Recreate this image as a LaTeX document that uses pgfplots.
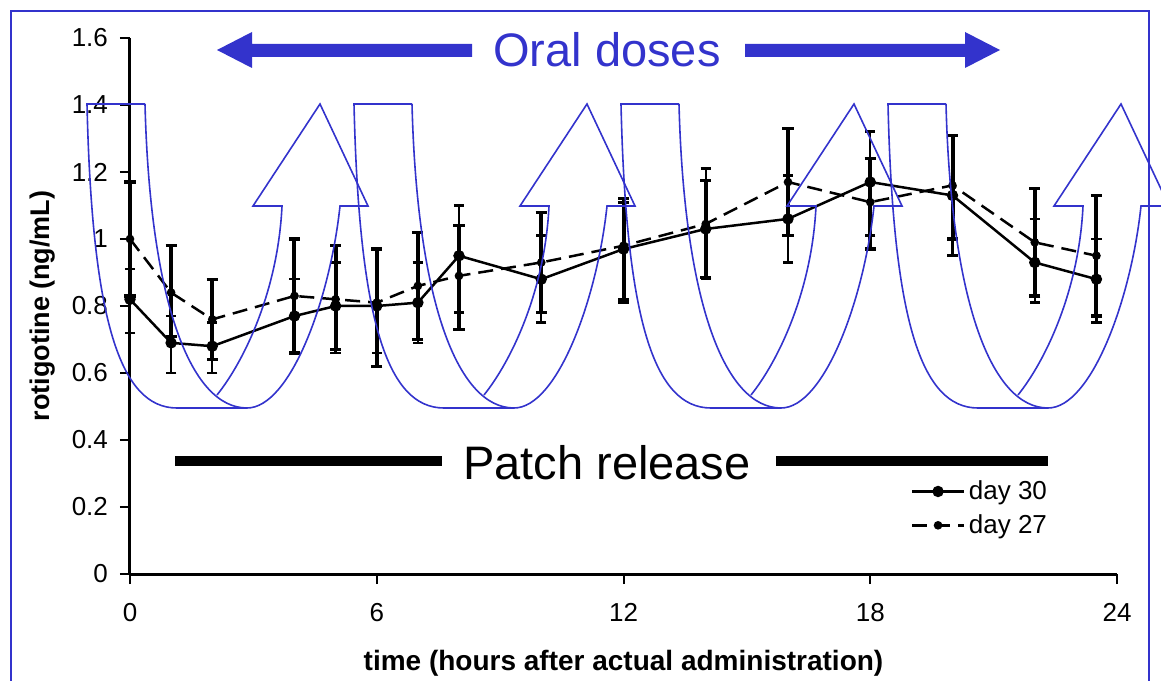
\documentclass[border=0pt]{standalone}
\usepackage{pgfplots}
\pgfplotsset{compat=1.18}
\usepackage{pgfplotstable}
\usepackage{fontspec}
\setmainfont{Liberation Sans}
\definecolor{ublue}{RGB}{51,51,204}

\pgfplotstableread{
t y ep em
0 0.82 0.09 0.10
1 0.69 0.08 0.09
2 0.68 0.07 0.08
4 0.77 0.11 0.11
5 0.80 0.13 0.14
6 0.80 0.17 0.14
7 0.81 0.12 0.12
8 0.95 0.15 0.17
10 0.88 0.13 0.13
12 0.97 0.15 0.16
14 1.03 0.18 0.15
16 1.06 0.13 0.13
18 1.17 0.15 0.16
20 1.13 0.18 0.18
22 0.93 0.13 0.12
23.5 0.88 0.12 0.13
}\dayThirty

\pgfplotstableread{
t y ep em
0 1.00 0.17 0.17
1 0.84 0.14 0.13
2 0.76 0.12 0.12
4 0.83 0.17 0.17
5 0.82 0.16 0.15
6 0.81 0.16 0.19
7 0.86 0.16 0.16
8 0.89 0.15 0.16
10 0.93 0.15 0.15
12 0.98 0.13 0.16
14 1.045 0.13 0.16
16 1.17 0.16 0.16
18 1.11 0.13 0.14
20 1.16 0.15 0.16
22 0.99 0.16 0.16
23.5 0.95 0.18 0.18
}\dayTwentySeven

\begin{document}
\begin{tikzpicture}
\begin{axis}[
  at={(0,0)}, anchor=south west,
  scale only axis, width=493.5pt, height=268pt,
  xmin=0, xmax=24, ymin=0, ymax=1.6,
  clip=false,
  axis lines=left,
  axis line style={-, line width=1.5pt, black},
  tick align=outside,
  major tick length=5pt,
  tick style={line width=1pt, black},
  xtick={0,6,12,18,24},
  xticklabels={0,6,12,18,24},
  ytick={0,0.2,0.4,0.6,0.8,1,1.2,1.4,1.6},
  yticklabels={0,0.2,0.4,0.6,0.8,1,1.2,1.4,1.6},
  ticklabel style={font=\fontsize{13}{15}\selectfont},
  xticklabel style={yshift=-6pt},
  yticklabel style={xshift=-2.5pt},
  xlabel={\bfseries time (hours after actual administration)},
  ylabel={\bfseries rotigotine (ng/mL)},
  xlabel style={font=\fontsize{14}{16}\selectfont, at={(axis description cs:0.5,-0.166)}, anchor=center},
  ylabel style={font=\fontsize{13.5}{16}\selectfont, at={(axis description cs:-0.089,0.5)}, anchor=center},
  legend style={draw=none, fill=none, at={(0.785,0.19)}, anchor=north west,
    font=\fontsize{13}{15}\selectfont, row sep=2pt},
  legend cell align=left,
  legend image code/.code={\draw[mark repeat=2,mark phase=2,#1] plot coordinates {(0cm,0cm) (0.45cm,0cm) (0.9cm,0cm)};},
]
\addplot[black, line width=1.25pt, mark=*, mark size=2.2pt,
  error bars/.cd, y dir=both, y explicit,
  error bar style={line width=1.2pt, solid},
  error mark options={rotate=90, mark size=2.6pt, line width=1.3pt, solid}]
  table[x=t, y=y, y error plus=ep, y error minus=em]{\dayThirty};
\addlegendentry{day 30}
\addplot[black, line width=1.25pt, dash pattern=on 7.5pt off 4pt, mark=*, mark size=1.5pt, mark options={solid},
  error bars/.cd, y dir=both, y explicit,
  error bar style={line width=2pt, solid},
  error mark options={rotate=90, mark size=2.8pt, line width=1.6pt, solid}]
  table[x=t, y=y, y error plus=ep, y error minus=em]{\dayTwentySeven};
\addlegendentry{day 27}
\end{axis}

\begin{scope}[shift={(-65pt,287pt)}, x=0.5pt, y=-0.5pt]
  % U-turn arrows
  \foreach \s in {0,267,534,801} {
    \begin{scope}[shift={(\s,0)}]
      \draw[ublue, line width=0.8pt, line join=miter]
        (145,104) -- (87,104)
        .. controls (92,320) and (120,408) .. (177,408)
        -- (247,408)
        .. controls (290,408) and (330,300) .. (340,206)
        -- (368,206) -- (320,104) -- (253,206) -- (282,206)
        .. controls (278,290) and (245,360) .. (217,395);
      \draw[ublue, line width=0.8pt]
        (145,104) .. controls (150,300) and (190,408) .. (247,408);
    \end{scope}
  }
  % Oral doses arrows
  \fill[ublue] (217,50) -- (252,32) -- (252,44) -- (472,44) -- (472,57) -- (252,57) -- (252,68) -- cycle;
  \fill[ublue] (1000,50) -- (965,32) -- (965,44) -- (745,44) -- (745,57) -- (965,57) -- (965,68) -- cycle;
  \node[ublue, font=\fontsize{23.5}{28}\selectfont, inner sep=0pt] at (607,50) {Oral doses};
  % Patch release
  \fill[black] (175,456) rectangle (442,466);
  \fill[black] (776,456) rectangle (1048,466);
  \node[black, font=\fontsize{23.5}{28}\selectfont, inner sep=0pt] at (607,463) {Patch release};
  % frame
  \draw[ublue, line width=1pt] (11,720) -- (11,11) -- (1149,11) -- (1149,720);
  \pgfresetboundingbox
  \path (0,0) rectangle (1161,680);
\end{scope}
\end{tikzpicture}
\end{document}
